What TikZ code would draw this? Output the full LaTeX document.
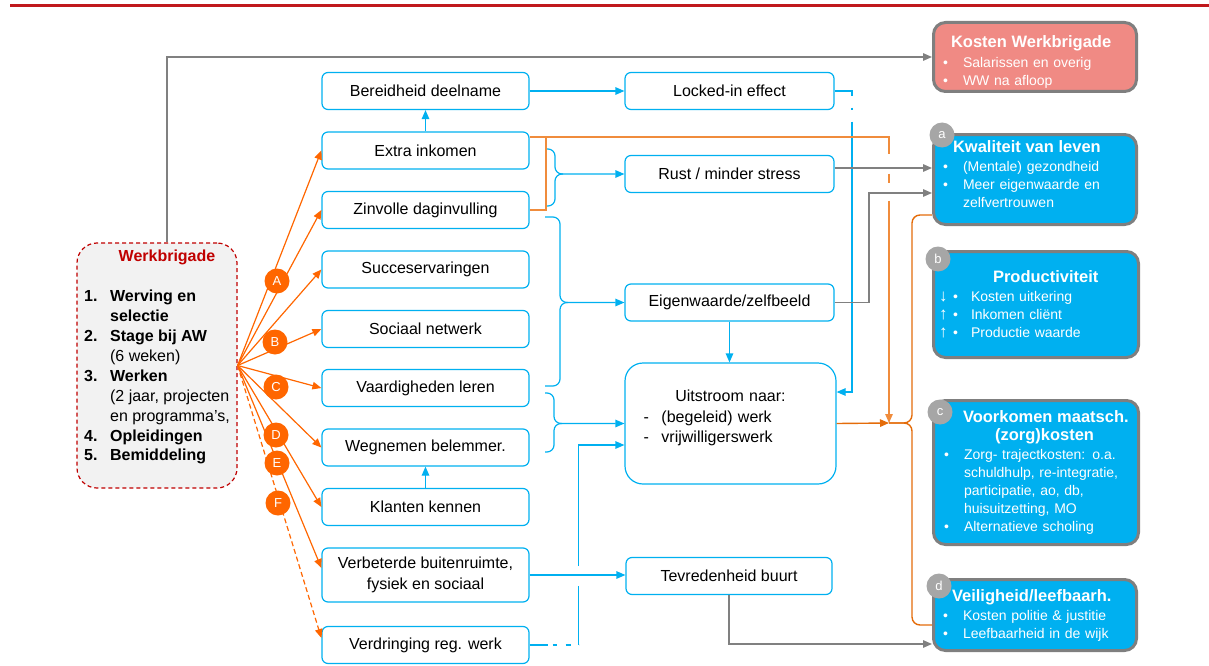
\documentclass[tikz,border=0pt]{standalone}
\usepackage{fontspec}
\setmainfont{Liberation Sans}
\usetikzlibrary{arrows.meta}
\definecolor{cyanline}{RGB}{0,176,240}
\definecolor{fanor}{RGB}{255,102,0}
\definecolor{brkor}{RGB}{240,140,60}
\definecolor{outor}{RGB}{228,108,10}
\definecolor{linegray}{RGB}{128,128,128}
\definecolor{boxgray}{RGB}{127,127,127}
\definecolor{dotgray}{RGB}{166,166,166}
\definecolor{costred}{RGB}{240,138,132}
\definecolor{wbred}{RGB}{192,0,0}
\definecolor{wbfill}{RGB}{242,242,242}
\definecolor{rulered}{RGB}{192,24,28}
\newcommand\midf{\fontsize{16}{20.5}\selectfont}
\newcommand\itf{\fontsize{14}{18}\selectfont}
\newcommand\ttl[1]{{\fontsize{16.5}{20}\selectfont\bfseries #1}}
\newcommand\bul{\makebox[28pt][l]{\hspace*{8pt}\textbullet}}
\newcommand\arw[1]{\makebox[14pt][l]{\fontsize{17}{17}\selectfont\bfseries #1}}

\begin{document}
\begin{tikzpicture}[x=1pt, y=-1pt,
  >={Triangle[length=9pt,width=7.5pt]},
  mid/.style={draw=cyanline, line width=1.2pt, rounded corners=6pt, minimum width=207pt,
              minimum height=37pt, font=\midf, align=center, inner sep=2pt},
  res/.style={draw=boxgray, line width=3pt, rounded corners=12pt, fill=cyanline, text=white,
              font=\itf, align=left, text width=200pt, inner xsep=1.5pt, inner ysep=2pt,
              minimum width=203pt},
  num/.style={circle, fill=fanor, text=white, inner sep=0pt, minimum size=25pt,
              font=\fontsize{13}{13}\selectfont},
  tag/.style={num, fill=dotgray},
  fan/.style={->, fanor, line width=1.2pt},
  bl/.style={->, cyanline, line width=1.2pt},
  brc/.style={cyanline, line width=1.2pt, rounded corners=7pt},
  gr/.style={->, linegray, line width=1.4pt},
  org/.style={brkor, line width=1.4pt},
]
\useasboundingbox (0,0) rectangle (1209,666);
\draw[rulered, line width=3pt] (10,5.5) -- (1209,5.5);

\node[draw=wbred, dash pattern=on 4pt off 3pt, line width=1.2pt, fill=wbfill, rounded corners=20pt,
      minimum width=160pt, minimum height=245pt, font=\midf, align=center, inner sep=0pt]
  (werk) at (157,365.5) {\hspace*{20pt}\textcolor{wbred}{\bfseries Werkbrigade}\\[19pt]%
  \renewcommand\arraystretch{0.975}%
  \begin{tabular}[t]{@{}p{26pt}@{}l@{}}
  \textbf{1.} & \textbf{Werving en}\\
   & \textbf{selectie}\\
  \textbf{2.} & \textbf{Stage bij AW}\\
   & (6 weken)\\
  \textbf{3.} & \textbf{Werken}\\
   & (2 jaar, projecten\\
   & en programma's,\\
  \textbf{4.} & \textbf{Opleidingen}\\
  \textbf{5.} & \textbf{Bemiddeling}\rule[-20pt]{0pt}{1pt}
  \end{tabular}};

\node[mid] (bd)  at (425.5,91)    {Bereidheid deelname};
\node[mid] (ei)  at (425.5,150.5) {Extra inkomen};
\node[mid] (zd)  at (425.5,210)   {Zinvolle daginvulling};
\node[mid] (sv)  at (425.5,269.5) {Succeservaringen};
\node[mid] (sn)  at (425.5,329)   {Sociaal netwerk};
\node[mid] (vh)  at (425.5,388)   {Vaardigheden leren};
\node[mid] (wgn) at (425.5,447.5) {Wegnemen belemmer.};
\node[mid] (kk)  at (425.5,507)   {Klanten kennen};
\node[mid, minimum height=54pt] (vbr) at (425.5,575) {Verbeterde buitenruimte,\\ fysiek en sociaal};
\node[mid] (vrd) at (425.5,645)   {Verdringing reg. werk};

\node[mid, minimum width=209pt] (lock) at (729.5,91)    {Locked-in effect};
\node[mid, minimum width=209pt] (rust) at (729.5,174)   {Rust / minder stress};
\node[mid, minimum width=209pt] (eig)  at (729.5,302.5) {Eigenwaarde/zelfbeeld};
\node[mid, minimum width=211pt, minimum height=121pt, rounded corners=18pt, text width=180pt, align=left]
  (uit) at (730.5,423.5) {\makebox[180pt][c]{Uitstroom naar:}\\
  \makebox[21pt][l]{\hspace*{3pt}-}(begeleid) werk\\
  \makebox[21pt][l]{\hspace*{3pt}-}vrijwilligerswerk\\[-6pt]\mbox{}};
\node[mid, minimum width=206pt] (tev) at (729,576) {Tevredenheid buurt};

\node[res, fill=costred, minimum height=69pt] (kwb) at (1035,57)
  {\rule{0pt}{22pt}\hspace*{16pt}\ttl{Kosten Werkbrigade}\\[2pt]\bul Salarissen en overig\\ \bul WW na afloop};
\node[res, minimum height=90pt] (kwl) at (1035,179.5)
  {\hspace*{18pt}\ttl{Kwaliteit van leven}\\[1pt]\bul (Mentale) gezondheid\\ \bul Meer eigenwaarde en\\
   \hspace*{28pt}zelfvertrouwen\\[-8pt]\mbox{}};
\node[res, minimum height=106pt, minimum width=205pt] (prod) at (1036,304.5)
  {\hspace*{57pt}\ttl{Productiviteit}\\[1pt]
   \hspace*{3pt}\arw{↓}\makebox[18pt][l]{\textbullet}Kosten uitkering\\
   \hspace*{3pt}\arw{↑}\makebox[18pt][l]{\textbullet}Inkomen cliënt\\
   \hspace*{3pt}\arw{↑}\makebox[18pt][l]{\textbullet}Productie waarde};
\node[res, minimum height=144pt, minimum width=205pt] (vmk) at (1036,472.5)
  {\hspace*{27pt}\ttl{Voorkomen maatsch.}\\ \hspace*{59pt}\ttl{(zorg)kosten}\\[1pt]
   \bul Zorg- trajectkosten: o.a.\\ \hspace*{28pt}schuldhulp, re-integratie,\\
   \hspace*{28pt}participatie, ao, db,\\ \hspace*{28pt}huisuitzetting, MO\\
   \bul Alternatieve scholing};
\node[res, minimum height=71pt] (vlh) at (1035,615)
  {\hspace*{17pt}\ttl{Veiligheid/leefbaarh.}\\[1pt]\bul Kosten politie \& justitie\\ \bul Leefbaarheid in de wijk};

% werkbrigade fan
\foreach \t in {ei,zd,sv,sn,vh,wgn,kk}
  \draw[fan] (werk.east) -- (\t.west);
\draw[fan] (werk.east) -- ([yshift=7pt]vbr.west);
\draw[fan, dash pattern=on 5pt off 3pt] (werk.east) -- ([yshift=7pt]vrd.west);
\node[num] (la) at (277,281) {A};
\node[num] (lb) at (275,342) {B};
\node[num] (lc) at (276,387) {C};
\node[num] (ld) at (276,435) {D};
\node[num] (le) at (277,463) {E};
\node[num] (lf) at (278,503) {F};

% blue links
\draw[bl] (ei) -- (bd);
\draw[bl] (kk) -- (wgn);
\draw[bl] (bd) -- (lock);
\draw[bl] (eig.south) -- (eig.south |- uit.north);
\draw[bl, dash pattern=on 22pt off 12pt on 2pt off 12pt on 1000pt] (lock.east) -| (852,392) -- (uit.east |- 0,392);
\draw[bl, dash pattern=on 59pt off 20pt on 1000pt] (vrd.east) ++(49,0) |- (uit.west |- 0,445);
\draw[cyanline, line width=1.2pt, dash pattern=on 18pt off 5pt on 4pt off 9pt on 5pt off 8pt] (vrd.east) -- ++(49,0);
\draw[bl] (vbr.east) -- (vbr.east -| tev.west);
\draw[brc, ->] (546,149) -| (555,174) -- (rust.west);
\draw[brc] (546,206) -| (555,174) -- ++(8,0);
\draw[brc, ->] (545,217) -| (560,302.5) -- (eig.west);
\draw[brc] (545,386) -| (560,302.5) -- ++(8,0);
\draw[brc, ->] (545,393) -| (554,423.5) -- (uit.west);
\draw[brc] (545,452) -| (554,423.5) -- ++(8,0);

% gray links
\draw[gr] ([xshift=10pt]werk.north) |- (kwb.west);
\draw[gr] ([yshift=6pt]rust.east) -- ([yshift=6pt]rust.east -| kwl.west);
\draw[gr] (eig.east) -| (869,193) -- (kwl.west |- 0,193);
\draw[gr] (tev.south) |- (vlh.west |- 0,644);

% orange links
\coordinate (jn) at (889,423);
\draw[org, ->, dash pattern=on 376pt off 20pt on 9pt off 18pt on 400pt] (ei.east |- 0,137) -| (jn);
\draw[org] (zd.east) -| (546,137);
\draw[org, draw=outor, ->] (uit.east) -- (jn);
\draw[org, draw=outor, rounded corners=8pt] (jn) -| (912,215) -- (kwl.west |- 0,215);
\draw[org, draw=outor, rounded corners=8pt] (jn) -| (912,625) -- (vlh.west |- 0,625);

\node[tag] (ca) at (942,135) {a};
\node[tag] (cb) at (938,259) {b};
\node[tag] (cc) at (940,412) {c};
\node[tag] (cd) at (939,586) {d};
\end{tikzpicture}
\end{document}
